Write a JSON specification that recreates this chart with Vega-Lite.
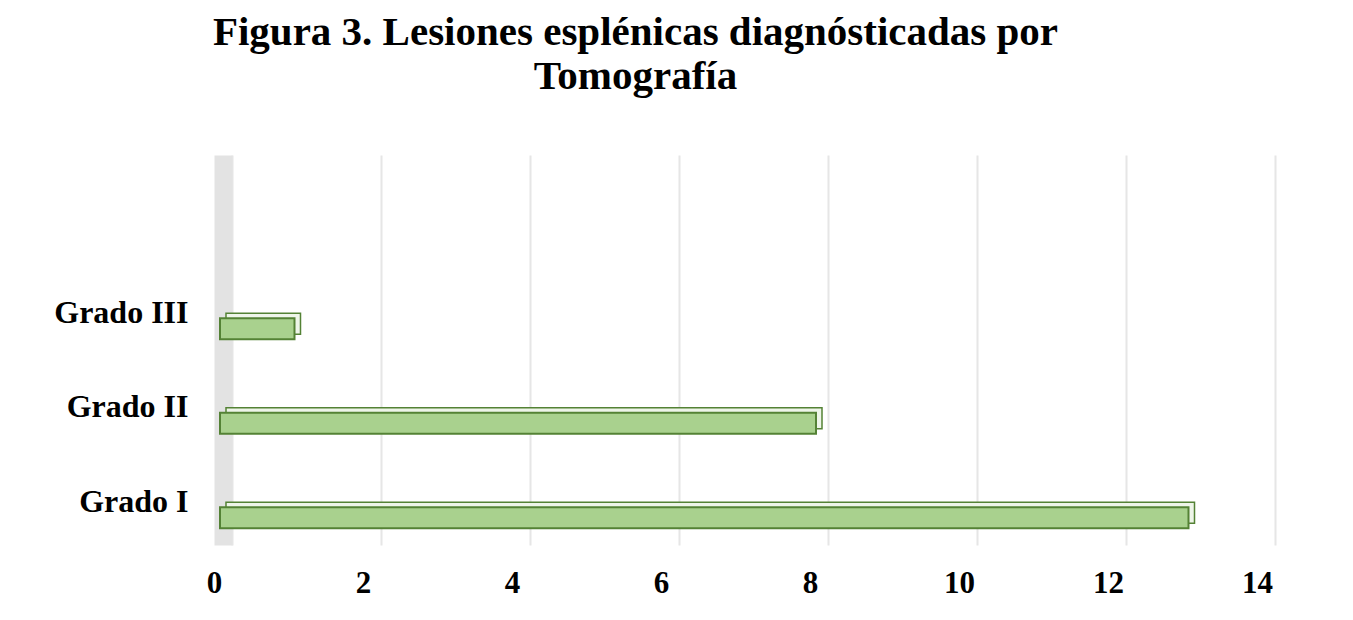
{
  "$schema": "https://vega.github.io/schema/vega-lite/v6.json",
  "width": 1043,
  "height": 390,
  "autosize": "none",
  "padding": {"left": 220, "top": 155, "right": 90, "bottom": 75},
  "background": "white",
  "title": {
    "text": ["Figura 3. Lesiones esplénicas diagnósticadas por", "Tomografía"],
    "font": "Liberation Serif",
    "fontSize": 41,
    "fontWeight": "bold",
    "color": "#000000",
    "lineHeight": 44,
    "anchor": "middle",
    "frame": "group",
    "dx": -106,
    "offset": 57
  },
  "data": {
    "values": [
      {"grado": "Grado I", "n": 13},
      {"grado": "Grado II", "n": 8},
      {"grado": "Grado III", "n": 1}
    ]
  },
  "encoding": {
    "y": {
      "field": "grado",
      "type": "nominal",
      "sort": null,
      "scale": {"domain": [" ", "Grado III", "Grado II", "Grado I"], "paddingInner": 0, "paddingOuter": 0.0635, "align": 1},
      "axis": {
        "title": null,
        "ticks": false,
        "domain": true,
        "domainColor": "#e3e3e3",
        "domainWidth": 18,
        "offset": -3,
        "labelPadding": 35,
        "labelOffset": 4,
        "labelFont": "Liberation Serif",
        "labelFontSize": 32,
        "labelFontWeight": "bold",
        "labelColor": "#000000",
        "grid": false
      }
    },
    "x": {
      "field": "n",
      "type": "quantitative",
      "scale": {"domain": [0, 14], "nice": false},
      "axis": {
        "title": null,
        "values": [0, 2, 4, 6, 8, 10, 12, 14],
        "ticks": false,
        "domain": false,
        "grid": true,
        "gridColor": "#e6e6e6",
        "gridWidth": 2,
        "tickOffset": 12,
        "labelOffset": -18,
        "labelFlush": false,
        "labelPadding": 23,
        "labelFont": "Liberation Serif",
        "labelFontSize": 31,
        "labelFontWeight": "bold",
        "labelColor": "#000000"
      }
    }
  },
  "layer": [
    {
      "mark": {"type": "bar", "size": 21, "xOffset": 6, "x2Offset": 6, "yOffset": 15, "fill": "#eef5e9", "stroke": "#548235", "strokeWidth": 1.5}
    },
    {
      "mark": {"type": "bar", "size": 21, "yOffset": 20, "fill": "#a9d18e", "stroke": "#548235", "strokeWidth": 2}
    }
  ],
  "config": {"view": {"stroke": null}}
}
